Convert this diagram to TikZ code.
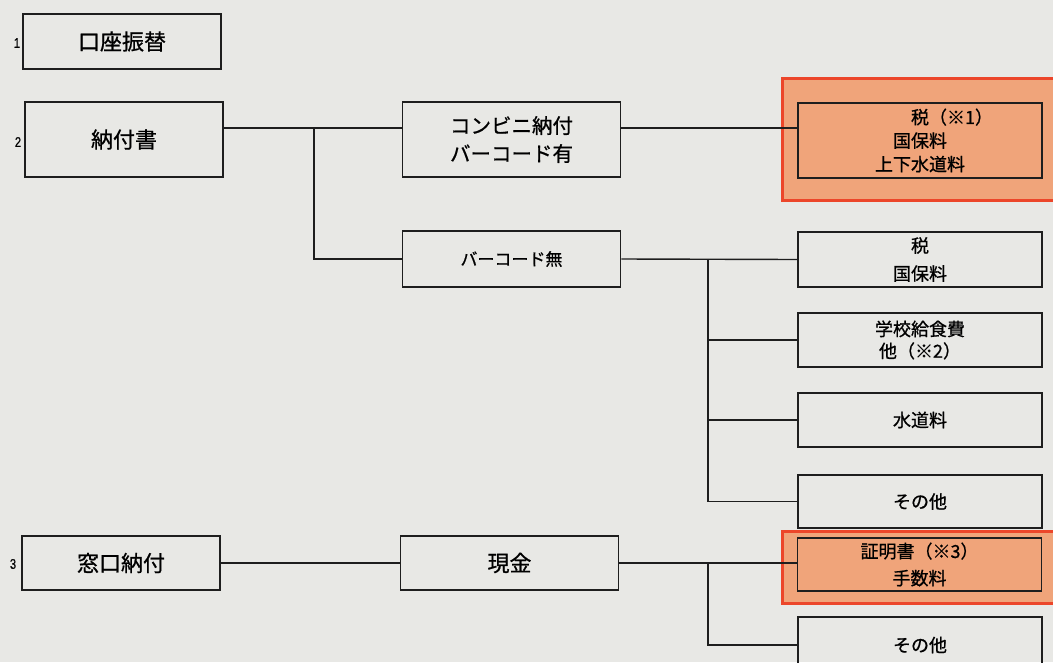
\documentclass[tikz,border=0pt]{standalone}
\usepackage{fontspec}
\setmainfont{Liberation Sans}
\newfontfamily\jp[FakeBold=0.8]{Noto Sans CJK JP}
\newfontfamily\numfont[FakeBold=0.5]{Liberation Sans}
\usetikzlibrary{calc}
\definecolor{paper}{RGB}{232,232,229}
\definecolor{orfill}{RGB}{240,164,122}
\definecolor{orline}{RGB}{236,70,42}
\definecolor{ink}{RGB}{30,30,30}
\begin{document}
\begin{tikzpicture}[x=1pt,y=-1pt,
  box/.style={draw=ink, line width=1.5pt, inner sep=0pt, align=center},
  bigtxt/.style={font=\jp\fontsize{22}{28}\selectfont},
  convtxt/.style={font=\jp\fontsize{20.5}{28}\selectfont},
  midtxt/.style={font=\jp\fontsize{17}{24}\selectfont},
  smltxt/.style={font=\jp\fontsize{18}{24}\selectfont},
  leftbox/.style={box, bigtxt, minimum width=198pt},
  midbox/.style={box, minimum width=218pt},
  rightbox/.style={box, smltxt, minimum width=244pt},
  outerbox/.style={draw=orline, fill=orfill, line width=3pt, minimum width=276pt, inner sep=0pt},
  conn/.style={draw=ink, line width=1.4pt},
  num/.style={font=\numfont\fontsize{14}{14}\selectfont, inner sep=0pt, xscale=0.8}
]
\useasboundingbox (0,0) rectangle (1053,662);
\fill[paper] (0,0) rectangle (1053,662);
\clip (0,0) rectangle (1053,662);

% left column
\node[num] (n1) at (17,43) {1};
\node[leftbox, minimum height=55pt] (b1) at (122,41.5) {口座振替};
\node[num] (n2) at (18,142) {2};
\node[leftbox, minimum height=75pt] (b2) at (124,139.5) {納付書};
\node[num] (n3) at (13,564) {3};
\node[leftbox, minimum height=54pt] (b3) at (121,563) {窓口納付};

% middle column
\node[midbox, convtxt, minimum height=75pt] (conv) at (511.5,139.5) {コンビニ納付\\バーコード有};
\node[midbox, midtxt, minimum height=56pt] (nobar) at (511.5,259) {バーコード無};
\node[midbox, bigtxt, minimum height=54pt] (cash) at (509.5,563) {現金};

% right column
\node[outerbox, minimum height=122pt] (o1) at (920,139) {};
\node[rightbox, fill=orfill, minimum height=75pt, font=\jp\fontsize{18}{23.5}\selectfont] (i1) at (920,140.5) {税\rlap{（※1）}\\国保料\\上下水道料};
\node[rightbox, minimum height=55pt, font=\jp\fontsize{18}{28}\selectfont] (t2) at (920,259.5) {税\\国保料};
\node[rightbox, minimum height=54pt, font=\jp\fontsize{18}{22}\selectfont] (t3) at (920,340) {学校給食費\\他（※2）};
\node[rightbox, minimum height=54pt] (t4) at (920,420) {水道料};
\node[rightbox, minimum height=53pt] (t5) at (920,501.5) {その他};
\node[outerbox, minimum height=72pt] (o2) at (920,567) {};
\node[rightbox, fill=orfill, minimum height=53pt, font=\jp\fontsize{18}{27}\selectfont] (i2) at (919.5,564.5) {証明書（※3）\\手数料};
\node[rightbox, minimum height=56pt] (t6) at (920,645) {その他};

% connectors
\coordinate (j1) at (314,128);
\coordinate (j2) at (708,259);
\coordinate (j3) at (708,563);
\draw[conn] (b2.east |- j1) -- (conv.west |- j1);
\draw[conn] (conv.east |- j1) -- (i1.west |- j1);
\draw[conn] (j1) |- (nobar.west);
\draw[conn] (nobar.east) -- (t2.west);
\draw[conn] (j2) |- (t5.west);
\draw[conn] (j2 |- t3.west) -- (t3.west);
\draw[conn] (j2 |- t4.west) -- (t4.west);
\draw[conn] (b3.east) -- (cash.west);
\draw[conn] (cash.east) -- (i2.west |- cash.east);
\draw[conn] (j3) |- (t6.west);
\end{tikzpicture}
\end{document}
